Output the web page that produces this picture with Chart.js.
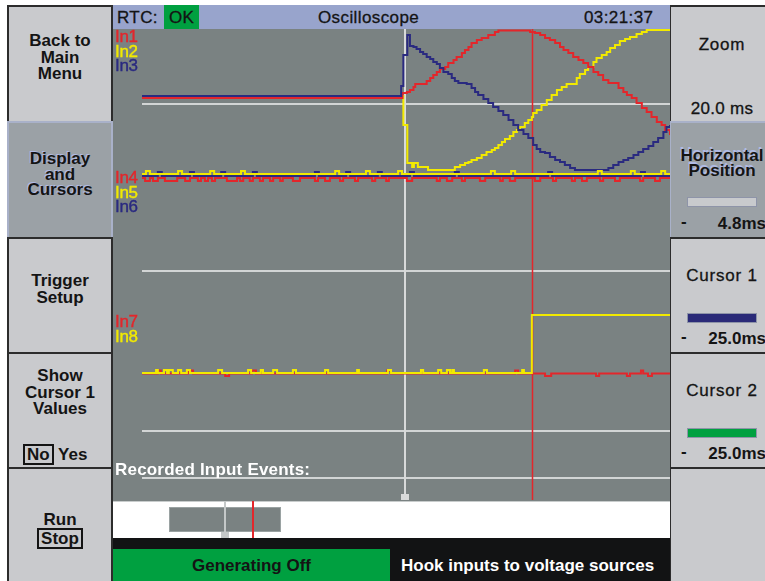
<!DOCTYPE html>
<html>
<head>
<meta charset="utf-8">
<script src="https://cdn.jsdelivr.net/npm/chart.js@4.4.1/dist/chart.umd.min.js"></script>
<style>
  body { margin:0; width:765px; height:581px; background:#fff; position:relative; overflow:hidden;
         font-family:'Liberation Sans', Arial, sans-serif; color:#141414; }
  .abs { position:absolute; }
  .btn { position:absolute; box-sizing:border-box; background:#c9cacd; border:2px solid #2c2c2c; overflow:hidden; }
  .sel { background:#9ba1a6; border-color:#a9b1c9; }
  .lbl { position:absolute; left:0; right:0; text-align:center; font-size:17px; font-weight:bold; white-space:nowrap; }
  .sel .lbl { text-shadow:-1px -1px 0 #b0bbe6; }
  .reg { font-weight:normal; letter-spacing:0.8px; -webkit-text-stroke:0.3px #141414; }
  .bar { position:absolute; left:16px; width:70px; height:10px; box-sizing:border-box; border:1px solid #8e94a8; }
  .val { position:absolute; right:7px; font-size:17px; font-weight:bold; }
  .dash { position:absolute; left:10px; font-size:17px; font-weight:bold; }
  .boxed { display:inline-block; border:2px solid #141414; line-height:17px; padding:0 2px; }
  #header { left:113px; top:5px; width:557px; height:24px; background:#98a4cc; font-size:17px; letter-spacing:0.4px; }
  #header span { position:absolute; top:3px; -webkit-text-stroke:0.3px #141414; }
  #plot { left:113px; top:29px; width:557px; height:472px; background:#7a8282; }
  .inl { position:absolute; left:115px; font-size:17px; line-height:14.5px; letter-spacing:-0.3px; }
  .inl span { -webkit-text-stroke:0.4px currentColor; }
</style>
</head>
<body>

<!-- left buttons -->
<div class="btn" style="left:7px;top:5px;width:106px;height:118px">
  <div class="lbl" style="top:26px;line-height:16.5px">Back to<br>Main<br>Menu</div>
</div>
<div class="btn sel" style="left:7px;top:121px;width:106px;height:118px">
  <div class="lbl" style="top:28px;line-height:15.5px">Display<br>and<br>Cursors</div>
</div>
<div class="btn" style="left:7px;top:237px;width:106px;height:117px">
  <div class="lbl" style="top:33px;line-height:17px">Trigger<br>Setup</div>
</div>
<div class="btn" style="left:7px;top:352px;width:106px;height:117px">
  <div class="lbl" style="top:14px;line-height:16.5px">Show<br>Cursor 1<br>Values</div>
  <div class="lbl" style="top:90px;left:14px;text-align:left"><span class="boxed">No</span> Yes</div>
</div>
<div class="btn" style="left:7px;top:467px;width:106px;height:120px">
  <div class="lbl" style="top:42px;line-height:17px">Run</div>
  <div class="lbl" style="top:59px"><span class="boxed">Stop</span></div>
</div>

<!-- right buttons -->
<div class="btn" style="left:669px;top:5px;width:106px;height:118px">
  <div class="lbl reg" style="top:28px">Zoom</div>
  <div class="lbl reg" style="top:92px;letter-spacing:0.3px">20.0 ms</div>
</div>
<div class="btn sel" style="left:669px;top:121px;width:106px;height:118px">
  <div class="lbl" style="top:25px;line-height:15px;text-shadow:-1px -2px 0 #b0bbe6">Horizontal<br>Position</div>
  <div class="bar" style="top:74px;background:#c8cacd"></div>
  <div class="dash" style="top:89px">-</div>
  <div class="val" style="top:91px">4.8ms</div>
</div>
<div class="btn" style="left:669px;top:237px;width:106px;height:117px">
  <div class="lbl reg" style="top:27px">Cursor 1</div>
  <div class="bar" style="top:74px;background:#2a2a78"></div>
  <div class="dash" style="top:88px">-</div>
  <div class="val" style="top:90px">25.0ms</div>
</div>
<div class="btn" style="left:669px;top:352px;width:106px;height:117px">
  <div class="lbl reg" style="top:27px">Cursor 2</div>
  <div class="bar" style="top:74px;background:#00a040"></div>
  <div class="dash" style="top:88px">-</div>
  <div class="val" style="top:90px">25.0ms</div>
</div>
<div class="btn" style="left:669px;top:467px;width:106px;height:120px"></div>

<!-- header -->
<div id="header" class="abs">
  <span style="left:4px">RTC:</span>
  <div class="abs" style="left:51px;top:0;width:35px;height:24px;background:#00a040"></div>
  <span style="left:56px">OK</span>
  <span style="left:205px">Oscilloscope</span>
  <span style="left:471px">03:21:37</span>
</div>

<!-- scope -->
<div id="plot" class="abs"><canvas id="scope"></canvas></div>

<div class="inl" style="top:30px"><span style="color:#e3262b">In1</span><br><span style="color:#f2ea00">In2</span><br><span style="color:#2a2a80">In3</span></div>
<div class="inl" style="top:171px"><span style="color:#e3262b">In4</span><br><span style="color:#f2ea00">In5</span><br><span style="color:#2a2a80">In6</span></div>
<div class="inl" style="top:315px"><span style="color:#e3262b">In7</span><br><span style="color:#f2ea00">In8</span></div>

<div class="abs" style="left:115px;top:460px;color:#fff;font-size:17px;font-weight:bold;letter-spacing:0.2px">Recorded Input Events:</div>

<!-- event strip -->
<div class="abs" style="left:113px;top:501px;width:557px;height:37px;background:#fff;border-top:1px solid #c8cccc;box-sizing:border-box"></div>
<div class="abs" style="left:169px;top:507px;width:112px;height:25px;background:#7a8282;border:1px solid #9aa2a2;box-sizing:border-box"></div>
<div class="abs" style="left:224px;top:501px;width:2px;height:31px;background:#c4c8c8"></div>
<div class="abs" style="left:221px;top:532px;width:8px;height:7px;background:#c4c8c8"></div>
<div class="abs" style="left:252px;top:501px;width:1.5px;height:37px;background:#e3262b"></div>

<!-- status -->
<div class="abs" style="left:113px;top:538px;width:557px;height:43px;background:#121314"></div>
<div class="abs" style="left:113px;top:549px;width:277px;height:32px;background:#00a040"></div>
<div class="abs" style="left:113px;top:556px;width:277px;text-align:center;font-size:17px;font-weight:bold">Generating Off</div>
<div class="abs" style="left:401px;top:556px;color:#fff;font-size:17px;font-weight:bold">Hook inputs to voltage sources</div>

<script>
// time axis in ms, level axis in volts
const timeMin = -60, timeMax = 60;
const voltMin = 0, voltMax = 47.2;

// In1..In3: [time, volts] change points
const in1 = [[-60,40.3],[-0.8,40.8],[0.2,40.9],[0.9,41.1],[1.7,41.4],[2.1,41.7],[4.7,42.0],[5.5,42.3],[6.2,42.6],
  [7.0,42.9],[7.7,43.2],[8.9,43.4],[9.6,43.8],[10.8,44.1],[11.5,44.4],[12.7,44.8],[13.4,45.1],[14.2,45.4],[14.9,45.8],
  [16.1,46.1],[17.2,46.3],[18.7,46.6],[20.2,46.9],[21.0,47.05],[28.2,46.9],[29.3,46.8],[30.5,46.6],[31.6,46.3],
  [32.7,46.1],[33.9,45.8],[35.0,45.4],[35.8,45.1],[36.9,44.8],[38.0,44.4],[39.2,44.1],[40.3,43.8],[41.4,43.4],
  [42.6,42.9],[43.7,42.6],[44.8,42.1],[46.0,41.8],[48.3,41.3],[49.4,40.9],[50.2,40.6],[51.3,40.3],[52.4,39.8],
  [53.6,39.3],[54.7,38.9],[55.8,38.4],[57.0,37.9],[58.1,37.6],[58.9,37.1],[60,36.6]];
const in2 = [[-60,40.5],[-0.6,37.6],[0.3,33.8],[1.4,33.4],[1.8,33.8],[2.7,33.4],[5.0,33.1],[11.1,33.4],[12.3,33.6],
  [13.4,33.8],[14.2,33.9],[14.9,34.1],[16.1,34.3],[17.2,34.6],[18.3,34.9],[19.5,35.1],[20.2,35.3],[21.0,35.6],
  [21.8,35.9],[22.5,36.2],[23.6,36.5],[24.4,36.9],[25.2,37.1],[25.9,37.4],[27.0,37.8],[27.8,38.1],[28.6,38.4],
  [28.9,38.8],[29.7,39.1],[30.8,39.6],[32.0,40.1],[33.1,40.6],[34.3,41.1],[35.4,41.4],[36.5,41.7],[38.8,42.3],
  [39.5,42.7],[40.7,43.1],[41.4,43.4],[42.6,43.9],[43.3,44.3],[44.5,44.6],[45.6,44.9],[46.4,45.3],[47.5,45.6],
  [48.6,46.0],[49.8,46.2],[50.9,46.4],[52.4,46.7],[53.6,46.9],[54.7,47.1],[60,47.1]];
const in3 = [[-60,40.5],[-1.1,41.5],[-0.6,44.6],[0.3,46.6],[0.9,45.5],[1.7,45.4],[2.4,45.2],[3.2,44.9],[3.9,44.7],
  [4.7,44.4],[5.5,44.2],[6.2,43.9],[7.0,43.7],[7.7,43.3],[8.5,42.9],[9.6,42.7],[10.4,42.3],[11.1,42.0],[11.9,41.8],
  [13.8,41.7],[14.9,41.3],[15.7,40.9],[16.4,40.6],[17.6,40.2],[18.7,39.8],[19.8,39.4],[21.0,39.0],[22.1,38.6],
  [23.3,38.1],[24.4,37.6],[25.5,37.1],[26.7,36.7],[27.8,36.3],[28.9,35.6],[29.7,35.2],[30.5,34.9],[31.6,34.8],
  [32.7,34.4],[33.9,34.1],[35.0,33.9],[36.1,33.6],[37.3,33.3],[38.4,33.1],[46.0,33.3],[47.1,33.6],[48.3,33.9],
  [49.4,34.1],[50.5,34.3],[51.7,34.6],[52.8,34.9],[53.9,35.2],[55.1,35.5],[56.2,35.9],[57.3,36.3],[58.5,36.9],
  [59.2,37.4],[60,37.6]];

// In4..In6: idle levels with short glitches (start / end times)
const in4Base = 32.3, in4Dip = 32.0;
const in4On  = [-59.3,-57.5,-54.8,-50.2,-47.3,-45.7,-44.1,-40.7,-37.7,-35.5,-33.2,-30.9,-28.6,-25.7,-20.7,-18.4,-15.0,-11.6,
  -7.7,-4.5,0.2,7.0,9.3,12.7,16.8,21.4,23.6,29.3,33.4,37.7,40.0,44.1,47.5,53.2,56.6];
const in4Off = [-58.2,-56.4,-52.0,-49.1,-46.6,-45.0,-43.4,-38.4,-37.0,-34.8,-32.5,-30.2,-28.0,-24.1,-20.0,-17.3,-14.3,-10.9,
  -7.0,-3.9,1.4,7.7,10.5,13.4,18.0,22.0,24.8,30.5,34.1,38.4,41.1,44.8,48.6,53.9,57.7];
const in5Base = 32.7, in5Bump = 33.0;
const in5On  = [-59.1,-51.8,-44.5,-37.5,-16.1,-9.1,-1.8,19.3,23.9,43.6,51.1,58.0];
const in5Off = [-58.2,-50.9,-43.6,-36.6,-15.2,-8.2,-0.9,20.2,24.8,44.5,52.0,58.9];
const in6Base = 32.5, in6Bump = 32.9;
const in6On  = [-56.4,-49.1,-42.0,-34.8,-20.7,-13.6,-6.4,0.9,11.1,32.3,53.4];
const in6Off = [-55.5,-48.2,-41.1,-33.9,-19.8,-12.7,-5.5,1.8,12.0,33.2,54.3];

// In7, In8
const in7Base = 12.75;
const in7On    = [-56.4,-49.5,-41.1,-35.0,-4.3,24.8,31.6,43.2,50.2,53.4,55.0];
const in7Off   = [-55.7,-48.4,-40.2,-34.1,-3.4,25.5,33.0,43.9,50.9,53.9,55.9];
const in7Level = [13.05,13.05,12.5,13.05,13.05,13.05,12.5,12.5,12.5,13.05,12.5];
const in8Base = 12.8, in8Bump = 13.1, in8High = 18.6, in8RiseAt = 28.6;
const in8On  = [-56.8,-55.0,-53.9,-51.8,-49.8,-42.7,-35.9,-33.0,-30.2,-25.7,-18.4,-11.1,-4.1,3.4,7.3,9.3,10.5,17.7,26.4];
const in8Off = [-56.4,-54.3,-53.0,-51.1,-49.1,-41.8,-35.2,-32.5,-29.3,-25.0,-17.7,-10.7,-3.4,3.9,8.0,10.0,10.9,18.4,26.8];

// reference lines and cursors
const gridLevels = [39.7, 23.0, 7.0, 2.3];
const triggerCursor = -0.2, redCursor = 28.6;

const RED = '#e3262b', YELLOW = '#f2ea00', BLUE = '#2a2a80';

function pairs(list) { return list.map(p => ({ x: p[0], y: p[1] })); }

function pulses(base, level, on, off) {
  const pts = [{ x: timeMin, y: base }];
  on.forEach((t, i) => {
    pts.push({ x: t, y: Array.isArray(level) ? level[i] : level });
    pts.push({ x: off[i], y: base });
  });
  return pts;
}

const in4Pts = pulses(in4Base, in4Dip, in4On, in4Off).concat([{ x: timeMax, y: in4Base }]);
const in5Pts = pulses(in5Base, in5Bump, in5On, in5Off).concat([{ x: timeMax, y: in5Base }]);
const in6Pts = pulses(in6Base, in6Bump, in6On, in6Off).concat([{ x: timeMax, y: in6Base }]);
const in7Pts = pulses(in7Base, in7Level, in7On, in7Off).concat([{ x: timeMax, y: in7Base }]);
const in8Pts = pulses(in8Base, in8Bump, in8On, in8Off).concat([{ x: in8RiseAt, y: in8High }, { x: timeMax, y: in8High }]);

const scopeMarks = {
  id: 'scopeMarks',
  beforeDatasetsDraw(chart) {
    const { ctx, chartArea: a, scales: { x, y } } = chart;
    ctx.save();
    ctx.strokeStyle = '#d2d5d5';
    ctx.lineWidth = 2;
    gridLevels.forEach(v => {
      const py = Math.round(y.getPixelForValue(v));
      ctx.beginPath(); ctx.moveTo(a.left, py); ctx.lineTo(a.right, py); ctx.stroke();
    });
    // trigger cursor with its handle
    const tx = Math.round(x.getPixelForValue(triggerCursor));
    const tEnd = y.getPixelForValue(0.7);
    ctx.strokeStyle = '#d8dada';
    ctx.beginPath(); ctx.moveTo(tx, a.top); ctx.lineTo(tx, tEnd); ctx.stroke();
    ctx.fillStyle = '#d8dada';
    ctx.fillRect(tx - 4, tEnd, 8, y.getPixelForValue(0.1) - tEnd);
    // red cursor
    const rx = Math.round(x.getPixelForValue(redCursor)) + 0.5;
    ctx.strokeStyle = RED;
    ctx.lineWidth = 1.5;
    ctx.beginPath(); ctx.moveTo(rx, a.top); ctx.lineTo(rx, y.getPixelForValue(0.1)); ctx.stroke();
    ctx.restore();
  }
};

new Chart(document.getElementById('scope'), {
  type: 'line',
  data: {
    datasets: [
      { label: 'In8', data: in8Pts, borderColor: YELLOW },
      { label: 'In7', data: in7Pts, borderColor: RED },
      { label: 'In5', data: in5Pts, borderColor: YELLOW },
      { label: 'In6', data: in6Pts, borderColor: BLUE },
      { label: 'In4', data: in4Pts, borderColor: RED },
      { label: 'In3', data: pairs(in3), borderColor: BLUE },
      { label: 'In1', data: pairs(in1), borderColor: RED },
      { label: 'In2', data: pairs(in2), borderColor: YELLOW }
    ]
  },
  options: {
    responsive: true,
    maintainAspectRatio: false,
    animation: false,
    events: [],
    layout: { padding: { left: 29, right: 0, top: 0, bottom: 0 } },
    datasets: {
      // horizontal first, then jump: each point is where a new level starts
      line: { stepped: 'before', pointRadius: 0, borderWidth: 2, clip: false, fill: false }
    },
    plugins: { legend: { display: false }, tooltip: { enabled: false } },
    scales: {
      x: { type: 'linear', min: timeMin, max: timeMax, display: false },
      y: { min: voltMin, max: voltMax, display: false }
    }
  },
  plugins: [scopeMarks]
});
</script>
</body>
</html>
